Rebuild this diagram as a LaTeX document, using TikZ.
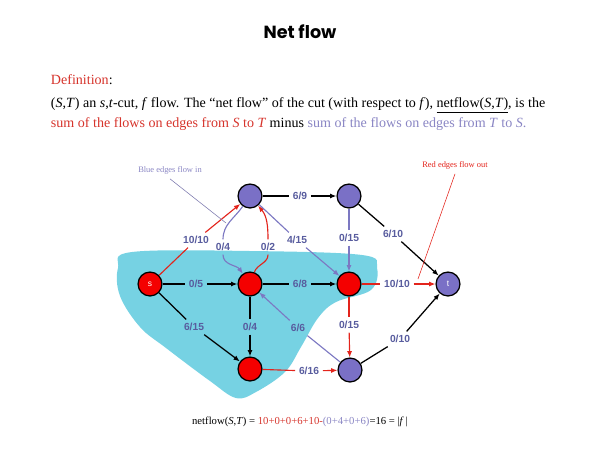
\documentclass[tikz,border=0pt]{standalone}
\usepackage{fontspec}
\setmainfont{Liberation Serif}
\newfontfamily\labfont{Liberation Sans}
\newfontfamily\titlefont{Poppins}
\usetikzlibrary{arrows.meta,calc,positioning}
\definecolor{cutred}{HTML}{E3241C}
\definecolor{nodered}{HTML}{F40000}
\definecolor{nodeblue}{HTML}{7A70C6}
\definecolor{edgeblue}{HTML}{7C78C2}
\definecolor{labink}{HTML}{585C9E}
\definecolor{textred}{HTML}{D6342C}
\definecolor{textblue}{HTML}{8A86C4}
\definecolor{cutcyan}{HTML}{76D2E3}
\tikzset{>={Latex[length=4.5pt,width=3.6pt]},
  every node/.style={font=\fontsize{10}{14.9}\selectfont},
  vtx/.style={circle,draw=black,line width=.9pt,minimum size=17pt,inner sep=0pt,
    font=\labfont\fontsize{6}{7}\selectfont,text=white},
  rnode/.style={vtx,fill=nodered},
  pnode/.style={vtx,fill=nodeblue},
  flowlab/.style={inner sep=2.5pt,text=labink,font=\labfont\bfseries\fontsize{7.3}{9}\selectfont},
  tedge/.style={draw=black,line width=.9pt},
  redge/.style={draw=cutred,line width=.8pt},
  bedge/.style={draw=edgeblue,line width=.8pt},
  note/.style={font=\fontsize{6}{7}\selectfont}}

\begin{document}
\begin{tikzpicture}[x=.025cm,y=-.025cm]
\useasboundingbox (0,0) rectangle (600,450);
% shaded side S of the cut
\fill[cutcyan] plot[smooth cycle,tension=.6] coordinates {(118,268) (132,252) (250,251)
  (362,255) (377,268) (371,290) (336,302) (318,318) (301,347) (285,372) (256,392)
  (236,398) (210,381) (166,348) (140,327) (120,296)};
\node[font=\titlefont\bfseries\fontsize{12.5}{14}\selectfont] (title) at (300,32) {Net flow};
\node[anchor=base west] (defa) at (46,84) {\textcolor{textred}{Definition}:};
\node[anchor=base west] (defb) at (46,107) {(\textit{S},\textit{T}) an \textit{s},\textit{t}-cut, \textit{f} flow. The “net flow” of the cut (with respect to \textit{f}), \underline{netflow(\textit{S},\textit{T})}, is the};
\node[anchor=base west] (defc) at (46,127) {\textcolor{textred}{sum of the flows on edges from \textit{S} to \textit{T}} minus \textcolor{textblue}{sum of the flows on edges from \textit{T} to \textit{S}.}};
\node[font=\fontsize{7.6}{9}\selectfont] (netf) at (300,422) {netflow(\textit{S},\textit{T}) = \textcolor{textred}{10+0+0+6+10-}\textcolor{textblue}{(0+4+0+6)}=16 = |\textit{f}\,|};
% vertices
\node[rnode] (s) at (150,284) {s};
\node[pnode] (a) at (250,196) {};
\node[pnode] (b) at (349,196) {};
\node[rnode] (c) at (250,284) {};
\node[rnode] (d) at (349,284) {};
\node[pnode] (t) at (448,284) {t};
\node[rnode] (e) at (250,369) {};
\node[pnode] (f) at (350,370) {};
% flow/capacity labels
\node[flowlab] (sa) at (196,240) {10/10};
\node[flowlab] (ab) at (300,196) {6/9};
\node[flowlab] (ac) at (223,247) {0/4};
\node[flowlab] (ca) at (268,247) {0/2};
\node[flowlab] (ad) at (297,240) {4/15};
\node[flowlab] (bd) at (349,238) {0/15};
\node[flowlab] (bt) at (393,234) {6/10};
\node[flowlab] (sc) at (196,284) {0/5};
\node[flowlab] (cd) at (300,284) {6/8};
\node[flowlab] (dt) at (397,284) {10/10};
\node[flowlab] (se) at (194,327) {6/15};
\node[flowlab] (ce) at (250,327) {0/4};
\node[flowlab] (fc) at (298,328) {6/6};
\node[flowlab] (df) at (349,325) {0/15};
\node[flowlab] (ft) at (400,339) {0/10};
\node[flowlab] (ef) at (309,371) {6/16};
% edges S -> T
\draw[redge] (s) -- (sa); \draw[redge,->] (sa) -- (a);
\draw[redge] (c) to[out=70,in=-90] (ca); \draw[redge,->] (ca) to[out=90,in=-50] (a);
\draw[redge] (d) -- (dt); \draw[redge,->] (dt) -- (t);
\draw[redge] (d) -- (df); \draw[redge,->] (df) -- (f);
\draw[redge] (e) -- (ef); \draw[redge,->] (ef) -- (f);
% edges T -> S
\draw[bedge] (a) to[out=-125,in=90] (ac); \draw[bedge,->] (ac) to[out=-90,in=125] (c);
\draw[bedge] (a) -- (ad); \draw[bedge,->] (ad) -- (d);
\draw[bedge] (b) -- (bd); \draw[bedge,->] (bd) -- (d);
\draw[bedge] (f) -- (fc); \draw[bedge,->] (fc) -- (c);
% edges inside one side
\draw[tedge] (a) -- (ab); \draw[tedge,->] (ab) -- (b);
\draw[tedge] (b) -- (bt); \draw[tedge,->] (bt) -- (t);
\draw[tedge] (s) -- (sc); \draw[tedge,->] (sc) -- (c);
\draw[tedge] (c) -- (cd); \draw[tedge,->] (cd) -- (d);
\draw[tedge] (s) -- (se); \draw[tedge,->] (se) -- (e);
\draw[tedge] (c) -- (ce); \draw[tedge,->] (ce) -- (e);
\draw[tedge] (f) -- (ft); \draw[tedge,->] (ft) -- (t);
% notes
\node[note,text=textblue] (bluenote) at (170,170) {Blue edges flow in};
\coordinate (bluetip) at (226,223);
\draw[edgeblue!70!gray,line width=.4pt] (bluenote.south) -- (bluetip);
\node[note,text=cutred] (rednote) at (455,165) {Red edges flow out};
\coordinate (redtip) at (418,279);
\draw[cutred,line width=.4pt] (rednote.south) -- (redtip);
\end{tikzpicture}
\end{document}
